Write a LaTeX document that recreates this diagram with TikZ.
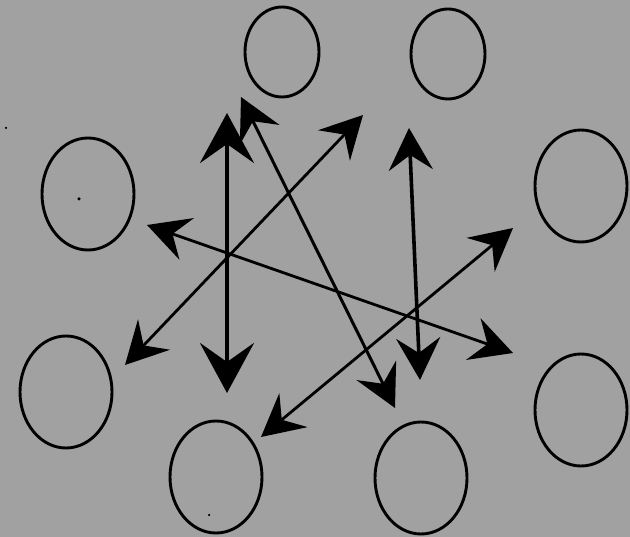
\documentclass[tikz,border=0pt]{standalone}
\usetikzlibrary{shapes.geometric,arrows.meta}
\definecolor{bg}{RGB}{161,161,161}
\begin{document}
\begin{tikzpicture}[x=1pt,y=-1pt,
  ringS/.style={ellipse,draw=black,line width=2.9pt,inner sep=0pt,minimum width=74pt,minimum height=90pt},
  ringL/.style={ellipse,draw=black,line width=2.9pt,inner sep=0pt,minimum width=92pt,minimum height=112pt},
  biarrow/.style={line width=#1,{Stealth[length=42pt,width=44pt,inset=15pt]}-{Stealth[length=42pt,width=44pt,inset=15pt]}},
  bigarrow/.style={line width=#1,{Stealth[length=50pt,width=54pt,inset=19pt]}-{Stealth[length=50pt,width=54pt,inset=19pt]}},
  speck/.style={fill=black,inner sep=0pt,minimum size=#1,circle}]
\fill[bg] (0,0) rectangle (630,537);
\useasboundingbox (0,0) rectangle (630,537);
% circles
\node[ringS] (t1) at (282,52) {};
\node[ringS] (t2) at (448,54) {};
\node[ringL] (l1) at (88,194) {};
\node[ringL] (r1) at (581,186) {};
\node[ringL] (l2) at (66,392) {};
\node[ringL] (b1) at (216,477) {};
\node[ringL] (b2) at (421,478) {};
\node[ringL] (r2) at (581,410) {};
% specks
\node[speck=3.5pt] (s1) at (79,199) {};
\node[speck=2.5pt] (s2) at (6,128) {};
\node[speck=2.5pt] (s3) at (209,515) {};
% arrow ends
\coordinate (a1) at (227,113); \coordinate (a2) at (227,393);
\coordinate (b1e) at (241,97);  \coordinate (b2e) at (395,408);
\coordinate (c1) at (363,115); \coordinate (c2) at (125,365);
\coordinate (d1) at (147,225); \coordinate (d2) at (513,353);
\coordinate (e1) at (409,128); \coordinate (e2) at (420,380);
\coordinate (f1) at (513,228); \coordinate (f2) at (261,437);
% arrows
\draw[bigarrow=4.5pt] (a1) -- (a2);
\draw[biarrow=3pt] (b1e) -- (b2e);
\draw[biarrow=2.8pt] (c1) -- (c2);
\draw[biarrow=2.8pt] (d1) -- (d2);
\draw[biarrow=3.6pt] (e1) -- (e2);
\draw[biarrow=2.8pt] (f1) -- (f2);
\end{tikzpicture}
\end{document}
